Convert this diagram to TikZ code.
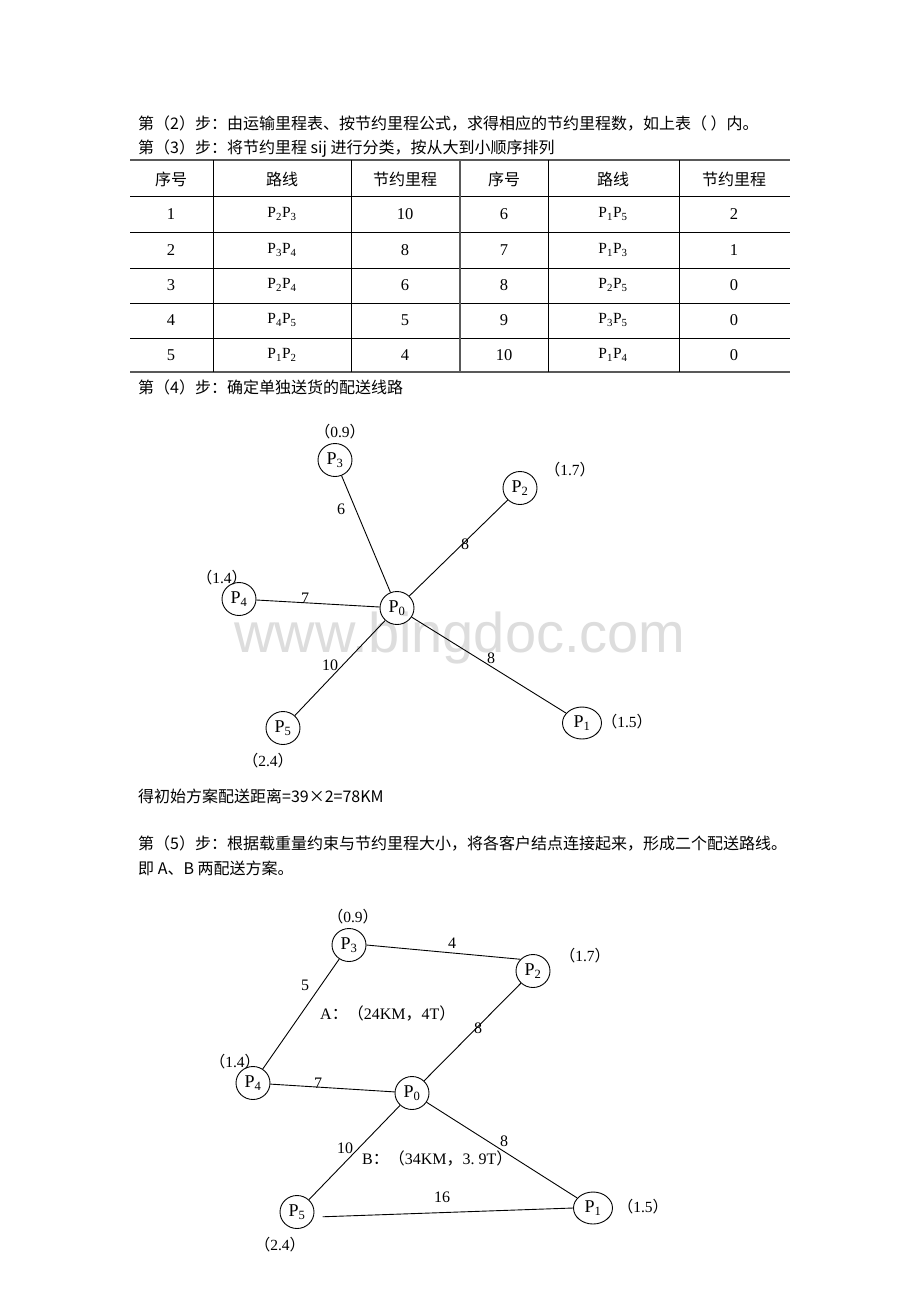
\documentclass[tikz,border=0pt]{standalone}
\usepackage{fontspec}
\setmainfont{Liberation Serif}
\newfontfamily\cjk{Noto Sans CJK SC}
\newfontfamily\wmfont{Liberation Sans}
\usetikzlibrary{shapes.geometric}
\newcommand\pairP[2]{P\textsubscript{#1}P\textsubscript{#2}}
\newcommand\ldp[1]{{\cjk （}#1{\cjk ）}}
\begin{document}
\begin{tikzpicture}[x=1pt,y=-1pt,
  pnode/.style={ellipse, draw, line width=0.9pt, minimum width=34pt, minimum height=33pt, inner sep=0pt, font=\fontsize{18}{20}\selectfont},
  widenode/.style={minimum width=39pt, minimum height=32pt},
  edge/.style={line width=0.9pt},
  elab/.style={font=\fontsize{16}{18}\selectfont, inner sep=0pt},
  load/.style={font=\fontsize{15.5}{17}\selectfont, inner sep=0pt},
  txt/.style={anchor=west, inner sep=0pt, font=\cjk\fontsize{16}{18}\selectfont},
  cell/.style={inner sep=0pt, font=\fontsize{16.5}{18}\selectfont},
  rcell/.style={inner sep=0pt, font=\fontsize{15.5}{17}\selectfont},
  hcell/.style={inner sep=0pt, font=\cjk\fontsize{16}{18}\selectfont},
  thin/.style={line width=0.8pt},
  thick2/.style={line width=2.2pt, gray!70!black},
]
\useasboundingbox (0,0) rectangle (920,1302);
\fill[white] (0,0) rectangle (920,1302);

% watermark
\node[font=\wmfont\fontsize{56}{60}\selectfont, text=gray!27, anchor=base, inner sep=0pt] (wm) at (460,652) {www.bingdoc.com};

% text lines
\node[txt] (l1) at (138,124) {第（2）步：由运输里程表、按节约里程公式，求得相应的节约里程数，如上表（ ）内。};
\node[txt] (l2) at (138,149) {第（3）步：将节约里程 sij 进行分类，按从大到小顺序排列};

% table
\draw[thick2] (130,160) -- (790,160);
\foreach \yy in {196,232,268,303,338} \draw[thin] (130,\yy) -- (790,\yy);
\draw[thick2] (130,372) -- (790,372);
\foreach \xx in {213,351,548,679} \draw[thin] (\xx,160) -- (\xx,372);
\draw[line width=2.4pt, gray!70!black] (460,160) -- (460,372);

\node[hcell] (h1) at (171,179) {序号};
\node[hcell] (h2) at (282,179) {路线};
\node[hcell] (h3) at (405,179) {节约里程};
\node[hcell] (h4) at (504,179) {序号};
\node[hcell] (h5) at (613,179) {路线};
\node[hcell] (h6) at (734,179) {节约里程};

\foreach \yy/\na/\ra/\sa/\nb/\rb/\sb in {
  214/1/\pairP{2}{3}/10/6/\pairP{1}{5}/2,
  250/2/\pairP{3}{4}/8/7/\pairP{1}{3}/1,
  285/3/\pairP{2}{4}/6/8/\pairP{2}{5}/0,
  320/4/\pairP{4}{5}/5/9/\pairP{3}{5}/0,
  355/5/\pairP{1}{2}/4/10/\pairP{1}{4}/0} {
  \node[cell] (c\yy a) at (171,\yy) {\na};
  \node[rcell] (c\yy b) at (282,\yy) {\ra};
  \node[cell] (c\yy c) at (405,\yy) {\sa};
  \node[cell] (c\yy d) at (504,\yy) {\nb};
  \node[rcell] (c\yy e) at (613,\yy) {\rb};
  \node[cell] (c\yy f) at (734,\yy) {\sb};
}

\node[txt] (l3) at (138,387) {第（4）步：确定单独送货的配送线路};

% diagram 1
\node[pnode] (a0) at (397,608) {P\textsubscript{0}};
\node[pnode, widenode] (a1) at (582,723) {P\textsubscript{1}};
\node[pnode] (a2) at (520,488) {P\textsubscript{2}};
\node[pnode] (a3) at (335,460) {P\textsubscript{3}};
\node[pnode] (a4) at (239,599) {P\textsubscript{4}};
\node[pnode] (a5) at (283,728) {P\textsubscript{5}};
\draw[edge] (a3) -- (a0);
\draw[edge] (a2) -- (a0);
\draw[edge] (a4) -- (a0);
\draw[edge] (a5) -- (a0);
\draw[edge] (a1) -- (a0);
\node[elab] (e1) at (341,509) {6};
\node[elab] (e2) at (465,544) {8};
\node[elab] (e3) at (305,598) {7};
\node[elab] (e4) at (330,665) {10};
\node[elab] (e5) at (491,658) {8};
\node[load] (w3) at (340,432) {\ldp{0.9}};
\node[load] (w2) at (570,470) {\ldp{1.7}};
\node[load] (w4) at (222,578) {\ldp{1.4}};
\node[load] (w1) at (627,722) {\ldp{1.5}};
\node[load] (w5) at (268,761) {\ldp{2.4}};

\node[txt] (l4) at (138,796) {得初始方案配送距离=39×2=78KM};
\node[txt] (l5) at (138,843) {第（5）步：根据载重量约束与节约里程大小，将各客户结点连接起来，形成二个配送路线。};
\node[txt] (l6) at (138,868) {即 A、B 两配送方案。};

% diagram 2
\node[pnode] (b0) at (412,1093) {P\textsubscript{0}};
\node[pnode, widenode] (b1) at (593,1208) {P\textsubscript{1}};
\node[pnode] (b2) at (533,971) {P\textsubscript{2}};
\node[pnode] (b3) at (349,945) {P\textsubscript{3}};
\node[pnode] (b4) at (253,1083) {P\textsubscript{4}};
\node[pnode] (b5) at (297,1212) {P\textsubscript{5}};
\draw[edge] (b3.east) -- (b2.137);
\draw[edge] (b3) -- (b4);
\draw[edge] (b4) -- (b0);
\draw[edge] (b0) -- (b2);
\draw[edge] (b0) -- (b5);
\draw[edge] (b0) -- (b1);
\draw[edge, shorten <=9pt] (b5.-17) -- (b1.west);
\node[elab] (f1) at (452,943) {4};
\node[elab] (f2) at (305,985) {5};
\node[elab] (f3) at (478,1028) {8};
\node[elab] (f4) at (318,1083) {7};
\node[elab] (f5) at (345,1148) {10};
\node[elab] (f6) at (504,1141) {8};
\node[elab] (f7) at (442,1197) {16};
\node[elab, anchor=west] (ra) at (320,1013) {A{\cjk ：（}24KM{\cjk ，}4T{\cjk ）}};
\node[elab, anchor=west] (rb) at (362,1158) {B{\cjk ：（}34KM{\cjk ，}3.\ 9T{\cjk ）}};
\node[load] (v3) at (353,917) {\ldp{0.9}};
\node[load] (v2) at (585,956) {\ldp{1.7}};
\node[load] (v4) at (235,1062) {\ldp{1.4}};
\node[load] (v1) at (643,1207) {\ldp{1.5}};
\node[load] (v5) at (280,1245) {\ldp{2.4}};
\end{tikzpicture}
\end{document}
